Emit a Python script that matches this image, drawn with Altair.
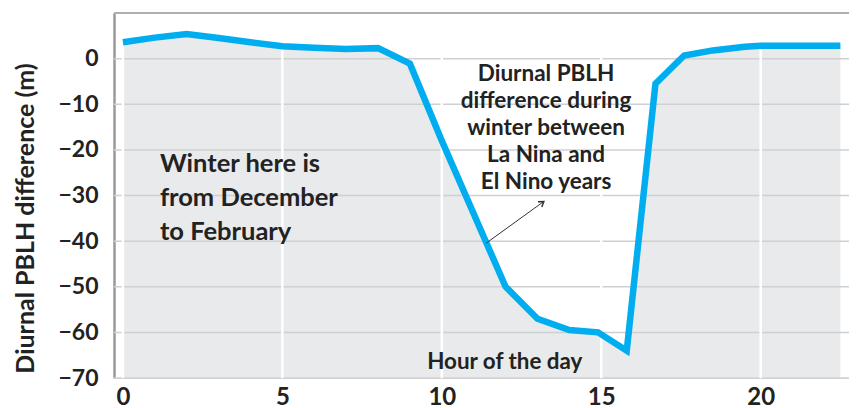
import altair as alt
import pandas as pd

hours = [0, 1, 2, 3, 4, 5, 6, 7, 8, 9, 10, 11, 12, 13, 14, 14.9, 15.8, 16.7, 17.6, 18.5, 19.5, 20, 21, 22.5]
diff = [3.6, 4.6, 5.4, 4.5, 3.6, 2.7, 2.4, 2.1, 2.3, -1.1, -18, -34, -50, -57, -59.5, -60, -64, -5.5, 0.7, 1.8, 2.6, 2.8, 2.8, 2.8]

y_ticks = [0, -10, -20, -30, -40, -50, -60, -70]
x_ticks = [0, 5, 10, 15, 20]

left_note = ["Winter here is", "from December", "to February"]
right_note = ["Diurnal PBLH", "difference during", "winter between", "La Nina and", "El Nino years"]
x_label = "Hour of the day"
y_title = "Diurnal PBLH difference (m)"

df = pd.DataFrame({"hour": hours, "diff": diff})
FONT = "Lato"

xs = alt.Scale(domain=[-0.28, 22.77], nice=False, zero=False)
ys = alt.Scale(domain=[-70, 10], nice=False, zero=False)

x_enc = alt.X("hour:Q", scale=xs,
              axis=alt.Axis(values=x_ticks, grid=False, domain=False, ticks=False,
                            labelFont=FONT, labelFontSize=24, labelFontWeight="bold",
                            labelColor="#222", labelPadding=7, title=None))
y_enc = alt.Y("diff:Q", scale=ys,
              axis=alt.Axis(values=y_ticks, grid=False, domain=True, domainColor="#9a9a9a",
                            domainWidth=2.5, ticks=False,
                            labelFont=FONT, labelFontSize=23, labelFontWeight="bold",
                            labelColor="#222", labelPadding=16,
                            title=y_title, titleFont=FONT, titleFontSize=25,
                            titleFontWeight="bold", titleColor="#222",
                            titleAngle=270, titleAlign="center", titleBaseline="middle",
                            titleX=-89, titleY=205))

area = alt.Chart(df).mark_area(color="#e9eaeb", opacity=1).encode(
    x=x_enc, y=y_enc, y2=alt.datum(-70))

hgrid = alt.Chart(pd.DataFrame({"v": y_ticks})).mark_rule(color="#cfd0d2", strokeWidth=1.5).encode(
    y=alt.Y("v:Q", scale=ys))

vgrid = alt.Chart(pd.DataFrame({"h": x_ticks})).mark_rule(color="#ffffff", strokeWidth=2.5).encode(
    x=alt.X("h:Q", scale=xs))

top_border = alt.Chart(pd.DataFrame({"v": [10]})).mark_rule(color="#b0b0b0", strokeWidth=2).encode(
    y=alt.Y("v:Q", scale=ys))

line = alt.Chart(df).mark_line(color="#00aeef", strokeWidth=6.5).encode(
    x=alt.X("hour:Q", scale=xs), y=alt.Y("diff:Q", scale=ys))

txt_left = alt.Chart(pd.DataFrame({"a": [0]})).mark_text(
    text=left_note, font=FONT, fontSize=25.5, fontWeight="bold", color="#222",
    align="left", baseline="middle", lineHeight=34).encode(
    x=alt.datum(1.16, scale=xs), y=alt.datum(-23.0, scale=ys))

txt_right = alt.Chart(pd.DataFrame({"a": [0]})).mark_text(
    text=right_note, font=FONT, fontSize=22.5, fontWeight="bold", color="#222",
    align="center", baseline="middle", lineHeight=27).encode(
    x=alt.datum(13.27, scale=xs), y=alt.datum(-3.3, scale=ys))

txt_hour = alt.Chart(pd.DataFrame({"a": [0]})).mark_text(
    text=x_label, font=FONT, fontSize=22.4, fontWeight="bold", color="#222",
    align="left", baseline="middle").encode(
    x=alt.datum(9.54, scale=xs), y=alt.datum(-66.6, scale=ys))

arrow_df = pd.DataFrame({"x1": [11.4], "y1": [-40.4], "x2": [13.2], "y2": [-31.3]})
arrow_line = alt.Chart(arrow_df).mark_rule(color="#333", strokeWidth=1).encode(
    x=alt.X("x1:Q", scale=xs), y=alt.Y("y1:Q", scale=ys), x2="x2:Q", y2="y2:Q")
arrow_head = alt.Chart(arrow_df).mark_point(
    shape="M-0.6,0.9L0,0L0.6,0.9", filled=False, color="#333", strokeWidth=1.5,
    size=120, angle=54, opacity=1).encode(
    x=alt.X("x2:Q", scale=xs), y=alt.Y("y2:Q", scale=ys))

chart = alt.layer(area, hgrid, vgrid, top_border, line, arrow_line, arrow_head,
                  txt_left, txt_right, txt_hour).properties(
    width=735, height=365,
    autosize=alt.AutoSizeParams(type="none"),
    padding={"left": 106, "top": 5, "right": 0, "bottom": 30},
).configure_view(stroke=None).configure(background="white")

chart.save("out.html", embed_options={"renderer": "svg", "actions": False})
